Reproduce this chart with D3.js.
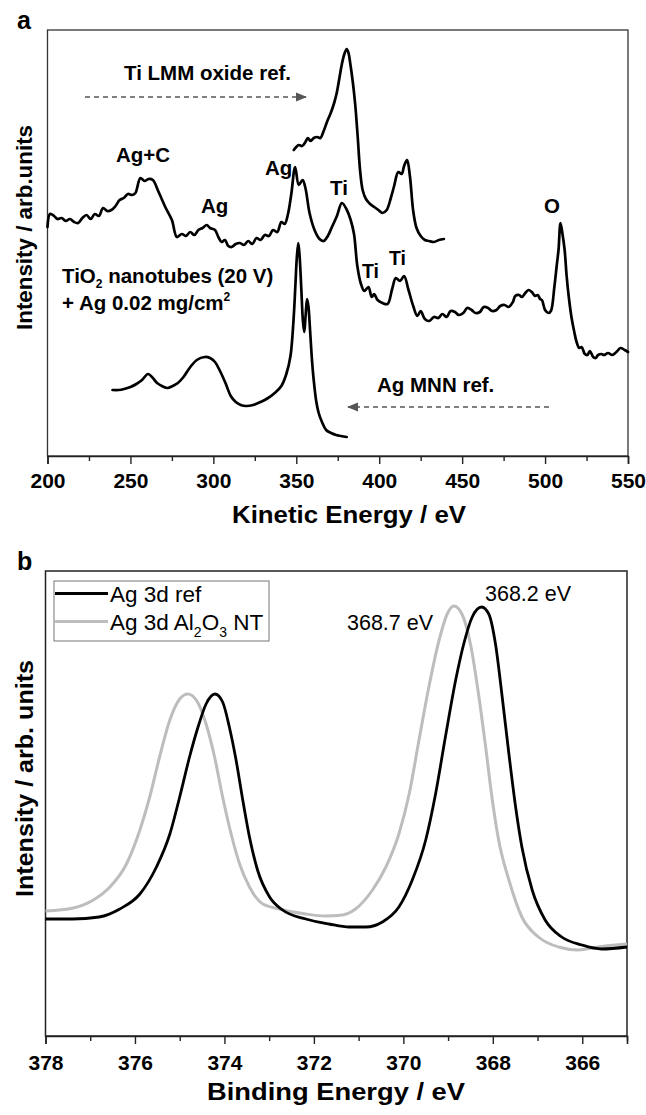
<!DOCTYPE html>
<html>
<head>
<meta charset="utf-8">
<script src="https://cdn.jsdelivr.net/npm/d3@7"></script>
<style>
  html, body { margin: 0; padding: 0; background: #fff; }
  svg { display: block; }
  text { font-family: Arial, "Liberation Sans", sans-serif; fill: #000; }
</style>
</head>
<body>
<svg id="chart" width="646" height="1115"></svg>
<script>
// ---------------- Panel a data (Auger spectra, kinetic energy in eV, intensity arb. units) ----------------
const kineticTicks = [200, 250, 300, 350, 400, 450, 500, 550];
const kineticMinorTicks = [225, 275, 325, 375, 425, 475, 525];

const sampleEnergy = [200, 201.5, 204, 206, 208.5, 211, 213.5, 216, 218.5, 221, 223.5, 226, 228.5, 231, 233.5, 236, 238.5, 241, 243.5, 246, 248.5, 251, 253, 256, 258.5, 261, 263.5, 267, 271, 275, 278, 281, 283.5, 286, 288.5, 291, 293.5, 296, 298, 301, 303, 305, 307, 309, 311, 313.5, 316, 318.5, 321, 323.5, 326, 328.5, 331, 333.5, 336, 338.5, 341, 343, 345, 347, 349.3, 351.5, 353.8, 355.5, 358, 361, 364, 366.5, 369, 371.5, 374.5, 377.5, 380.5, 382.8, 384.8, 386.8, 389, 391, 393.5, 395.5, 397, 399, 402, 405, 407.8, 410, 412.5, 415, 417.5, 420.5, 423, 425, 427.5, 430, 433, 435.7, 438, 440.7, 443, 445.7, 448, 450.7, 453, 455.7, 458, 460.7, 463, 465.7, 468, 470.7, 473, 475.6, 478, 480.6, 482, 484.4, 486, 488.1, 490, 492, 494, 495.6, 497, 498.1, 500, 502, 503.5, 505.6, 507, 508.1, 509.3, 510.5, 511.8, 513, 514.3, 516, 517.5, 519, 520.6, 522, 524, 525.5, 527, 529, 530.5, 532, 534, 535.5, 538, 540.5, 543, 545.5, 548, 550];
const sampleIntensity = [229, 242, 240, 237, 238, 235, 237, 234, 233, 238, 241, 237, 242, 240, 248, 245, 246, 250, 256, 258, 262, 261, 263, 278, 275, 277, 276, 264, 249, 236, 219, 222, 220, 224, 221, 226, 228, 231, 228, 226, 219, 214, 216, 210, 209, 212, 213, 211, 215, 212, 218, 216, 221, 220, 226, 224, 234, 232, 242, 262, 289, 271, 276, 268, 243, 226, 217, 215, 220, 229, 240, 253, 246, 236, 222, 190, 172, 165, 169, 159, 162, 156, 153, 152, 167, 178, 175, 180, 167, 150, 140, 145, 137, 135, 139, 138, 142, 139, 145, 144, 141, 143, 148, 146, 143, 144, 149, 148, 145, 146, 150, 151, 149, 154, 160, 161, 159, 163, 166, 164, 160, 161, 157, 156, 146, 143, 145, 169, 190, 206, 233, 222, 206, 180, 159, 138, 125, 114, 108, 109, 102, 101, 105, 99, 98, 101, 102, 101, 103, 101, 104, 108, 106, 104];

const tiRefEnergy = [348.5, 350, 351.5, 353.5, 355.5, 357, 358.5, 360.5, 362.5, 364.5, 366.5, 368.5, 371, 373, 374.5, 376, 377.5, 379, 380.4, 381.5, 382.5, 384, 385.5, 387, 388.5, 390, 392, 394.5, 397, 399.5, 402, 404.5, 407, 409, 411.5, 413.5, 415, 416.8, 418.5, 420.5, 422.5, 425, 427.5, 430, 433, 436, 439];
const tiRefIntensity = [306, 309, 311, 310, 314, 318, 315, 318, 319, 318, 325, 334, 344, 354, 364, 378, 392, 402, 407, 403, 393, 375, 352, 320, 285, 266, 257, 252, 249, 246, 243, 246, 258, 270, 284, 282, 290, 296, 280, 245, 228, 220, 216, 215, 214, 216, 217];

const agRefEnergy = [239.2, 243, 246.2, 250, 253.6, 257, 260.6, 263.5, 266.1, 269, 272.3, 275.5, 278.6, 282, 286.1, 290, 294.8, 298, 301, 304, 307.3, 310.5, 313.5, 316.5, 319.7, 324, 328.5, 333, 337, 341, 344, 346.5, 348.3, 349.5, 350.3, 351.2, 352, 353, 354, 354.8, 355.6, 356.5, 357.3, 358.3, 359.5, 360.5, 362, 363.5, 365.5, 368, 371, 374, 377, 380.4];
const agRefIntensity = [66, 66, 67, 69, 72, 76, 82, 78, 73, 70, 68, 70, 73, 79, 89, 96, 99, 98, 94, 85, 73, 60, 54, 51, 50, 51, 54, 58, 63, 70, 82, 100, 135, 172, 198, 213, 200, 168, 135, 124, 140, 157, 150, 126, 95, 76, 55, 43, 34, 26, 23, 21, 20, 19];

// ---------------- Panel b data (XPS Ag 3d, binding energy in eV) ----------------
const bindingTicks = [378, 376, 374, 372, 370, 368, 366];
const bindingMinorTicks = [377, 375, 373, 371, 369, 367, 365];

const refEnergy = [378.0, 377.4, 376.8, 376.34, 375.89, 375.52, 375.22, 375.0, 374.78, 374.59, 374.41, 374.21, 374.04, 373.89, 373.74, 373.59, 373.44, 373.26, 372.99, 372.7, 372.18, 371.66, 371.21, 370.84, 370.47, 370.1, 369.8, 369.5, 369.28, 369.06, 368.83, 368.65, 368.46, 368.25, 368.09, 367.94, 367.79, 367.64, 367.49, 367.35, 367.12, 366.83, 366.46, 366.01, 365.57, 365.0];
const refIntensity = [117, 117, 119, 127, 142, 169, 202, 239, 279, 309, 332, 342, 334, 309, 276, 236, 199, 166, 139, 126, 117, 112, 109, 109, 114, 129, 156, 196, 242, 299, 356, 392, 419, 429, 422, 392, 339, 282, 229, 189, 146, 116, 99, 91, 87, 89];

const ntEnergy = [378.0, 377.38, 376.93, 376.56, 376.19, 375.89, 375.67, 375.45, 375.22, 375.0, 374.82, 374.63, 374.41, 374.22, 374.04, 373.85, 373.66, 373.44, 373.14, 372.77, 372.18, 371.74, 371.36, 371.07, 370.69, 370.39, 370.1, 369.87, 369.65, 369.43, 369.2, 369.02, 368.87, 368.68, 368.5, 368.31, 368.16, 368.02, 367.87, 367.64, 367.35, 366.98, 366.53, 366.09, 365.65, 365.0];
const ntIntensity = [125, 128, 136, 149, 172, 206, 239, 279, 316, 337, 342, 336, 312, 279, 239, 202, 172, 149, 132, 127, 122, 120, 121, 127, 146, 169, 202, 242, 296, 349, 396, 422, 430, 421, 392, 339, 289, 239, 196, 156, 119, 99, 89, 86, 89, 92];

const seriesLabels = ["Ag 3d ref", "Ag 3d Al2O3 NT"];

// ---------------- Drawing ----------------
const svg = d3.select("#chart");
const FONT = 'Arial, "Liberation Sans", sans-serif';

function zip(xs, ys) { return xs.map((x, i) => [x, ys[i]]); }

// ===== Panel a =====
const A = { left: 47.5, right: 628, top: 30, bottom: 456 };
const xa = d3.scaleLinear().domain([200, 550]).range([A.left, A.right]);
const ya = d3.scaleLinear().domain([0, 426]).range([A.bottom, A.top]);
const ga = svg.append("g");

ga.append("rect").attr("x", A.left).attr("y", A.top)
  .attr("width", A.right - A.left).attr("height", A.bottom - A.top)
  .attr("fill", "none").attr("stroke", "#333").attr("stroke-width", 1.3);

const lineA = d3.line().x(d => xa(d[0])).y(d => ya(d[1])).curve(d3.curveCatmullRom.alpha(0.5));
[[sampleEnergy, sampleIntensity], [tiRefEnergy, tiRefIntensity], [agRefEnergy, agRefIntensity]].forEach(([e, v]) => {
  ga.append("path").datum(zip(e, v)).attr("d", lineA)
    .attr("fill", "none").attr("stroke", "#000").attr("stroke-width", 2.7)
    .attr("stroke-linejoin", "round").attr("stroke-linecap", "round");
});

const axA = ga.append("g").attr("transform", `translate(0,${A.bottom})`)
  .call(d3.axisBottom(xa).tickValues(kineticTicks).tickSize(8).tickPadding(9).tickFormat(d3.format("d")));
axA.select(".domain").attr("stroke", "#222").attr("stroke-width", 1.6);
axA.selectAll(".tick line").attr("stroke", "#222").attr("stroke-width", 1.4);
axA.selectAll(".tick text").style("font-family", FONT).style("font-size", "21px").style("font-weight", "bold").attr("fill", "#000");
const axAm = ga.append("g").attr("transform", `translate(0,${A.bottom})`)
  .call(d3.axisBottom(xa).tickValues(kineticMinorTicks).tickSize(5).tickFormat(""));
axAm.select(".domain").remove();
axAm.selectAll(".tick line").attr("stroke", "#222").attr("stroke-width", 1.4);

ga.append("text").attr("x", 349).attr("y", 523).attr("text-anchor", "middle")
  .attr("textLength", 234).attr("lengthAdjust", "spacingAndGlyphs")
  .style("font-size", "23px").style("font-weight", "bold").text("Kinetic Energy / eV");
ga.append("text").attr("transform", `translate(32,227.5) rotate(-90)`).attr("text-anchor", "middle")
  .attr("textLength", 205).attr("lengthAdjust", "spacingAndGlyphs")
  .style("font-size", "22px").style("font-weight", "bold").text("Intensity / arb.units");
ga.append("text").attr("x", 17).attr("y", 29).style("font-size", "25px").style("font-weight", "bold").text("a");

function lab(g, x, y, t, size) {
  return g.append("text").attr("x", x).attr("y", y).style("font-size", (size || 20.5) + "px").style("font-weight", "bold").text(t);
}
lab(ga, 124, 80, "Ti LMM oxide ref.");
lab(ga, 116, 162, "Ag+C");
lab(ga, 201, 213, "Ag");
lab(ga, 265, 175, "Ag");
lab(ga, 330, 195, "Ti");
lab(ga, 544, 213, "O");
lab(ga, 362, 278, "Ti", 19.5);
lab(ga, 389, 265, "Ti", 19.5);
const t1 = lab(ga, 62, 283, "TiO");
t1.append("tspan").attr("dy", 5).style("font-size", "12px").text("2");
t1.append("tspan").attr("dy", -5).text(" nanotubes (20 V)");
const t2 = lab(ga, 62, 310, "+ Ag 0.02 mg/cm");
t2.append("tspan").attr("dy", -9).style("font-size", "12px").text("2");
lab(ga, 377, 392, "Ag MNN ref.");

// dashed arrows
const defs = svg.append("defs");
defs.append("marker").attr("id", "arrow").attr("viewBox", "0 0 10 10").attr("refX", 9).attr("refY", 5)
  .attr("markerWidth", 7).attr("markerHeight", 7).attr("orient", "auto-start-reverse")
  .append("path").attr("d", "M0,1 L10,5 L0,9 Z").attr("fill", "#555");
ga.append("line").attr("x1", 85).attr("x2", 306).attr("y1", 97).attr("y2", 97)
  .attr("stroke", "#555").attr("stroke-width", 1.6).attr("stroke-dasharray", "5,4").attr("marker-end", "url(#arrow)");
ga.append("line").attr("x1", 549).attr("x2", 348).attr("y1", 407).attr("y2", 407)
  .attr("stroke", "#555").attr("stroke-width", 1.6).attr("stroke-dasharray", "5,4").attr("marker-end", "url(#arrow)");

// ===== Panel b =====
const B = { left: 45.5, right: 627, top: 571, bottom: 1036 };
const xb = d3.scaleLinear().domain([378, 365]).range([B.left, B.right]);
const yb = d3.scaleLinear().domain([0, 465]).range([B.bottom, B.top]);
const gb = svg.append("g");

gb.append("rect").attr("x", B.left).attr("y", B.top)
  .attr("width", B.right - B.left).attr("height", B.bottom - B.top)
  .attr("fill", "none").attr("stroke", "#222").attr("stroke-width", 1.5);

const lineB = d3.line().x(d => xb(d[0])).y(d => yb(d[1])).curve(d3.curveMonotoneX);
gb.append("path").datum(zip(ntEnergy, ntIntensity)).attr("d", lineB)
  .attr("fill", "none").attr("stroke", "#bdbdbd").attr("stroke-width", 3);
gb.append("path").datum(zip(refEnergy, refIntensity)).attr("d", lineB)
  .attr("fill", "none").attr("stroke", "#000").attr("stroke-width", 2.8);

const axB = gb.append("g").attr("transform", `translate(0,${B.bottom})`)
  .call(d3.axisBottom(xb).tickValues(bindingTicks).tickSize(8).tickPadding(11).tickFormat(d3.format("d")));
axB.select(".domain").attr("stroke", "#222").attr("stroke-width", 1.6);
axB.selectAll(".tick line").attr("stroke", "#222").attr("stroke-width", 1.4);
axB.selectAll(".tick text").style("font-family", FONT).style("font-size", "21px").style("font-weight", "bold").attr("fill", "#000");
const axBm = gb.append("g").attr("transform", `translate(0,${B.bottom})`)
  .call(d3.axisBottom(xb).tickValues(bindingMinorTicks).tickSize(5).tickFormat(""));
axBm.select(".domain").remove();
axBm.selectAll(".tick line").attr("stroke", "#222").attr("stroke-width", 1.4);

gb.append("text").attr("x", 336).attr("y", 1100).attr("text-anchor", "middle")
  .attr("textLength", 258).attr("lengthAdjust", "spacingAndGlyphs")
  .style("font-size", "24px").style("font-weight", "bold").text("Binding Energy / eV");
gb.append("text").attr("transform", `translate(33,778.5) rotate(-90)`).attr("text-anchor", "middle")
  .attr("textLength", 237).attr("lengthAdjust", "spacingAndGlyphs")
  .style("font-size", "24px").style("font-weight", "bold").text("Intensity / arb. units");
gb.append("text").attr("x", 17).attr("y", 570).style("font-size", "25px").style("font-weight", "bold").text("b");

// legend
const lg = gb.append("g");
lg.append("rect").attr("x", 54).attr("y", 581).attr("width", 215).attr("height", 60)
  .attr("fill", "#fff").attr("stroke", "#777").attr("stroke-width", 1);
lg.append("line").attr("x1", 55).attr("x2", 108).attr("y1", 593.5).attr("y2", 593.5).attr("stroke", "#000").attr("stroke-width", 2.8);
lg.append("line").attr("x1", 55).attr("x2", 108).attr("y1", 621.5).attr("y2", 621.5).attr("stroke", "#bdbdbd").attr("stroke-width", 3);
lg.append("text").attr("x", 110).attr("y", 601.5).style("font-size", "22.5px").text(seriesLabels[0]);
const lt = lg.append("text").attr("x", 110).attr("y", 630).style("font-size", "22.5px").text("Ag 3d Al");
lt.append("tspan").attr("dy", 7).style("font-size", "14px").text("2");
lt.append("tspan").attr("dy", -7).text("O");
lt.append("tspan").attr("dy", 7).style("font-size", "14px").text("3");
lt.append("tspan").attr("dy", -7).text(" NT");

gb.append("text").attr("x", 485).attr("y", 601).style("font-size", "21.5px").text("368.2 eV");
gb.append("text").attr("x", 347).attr("y", 630).style("font-size", "21.5px").text("368.7 eV");
</script>
</body>
</html>
